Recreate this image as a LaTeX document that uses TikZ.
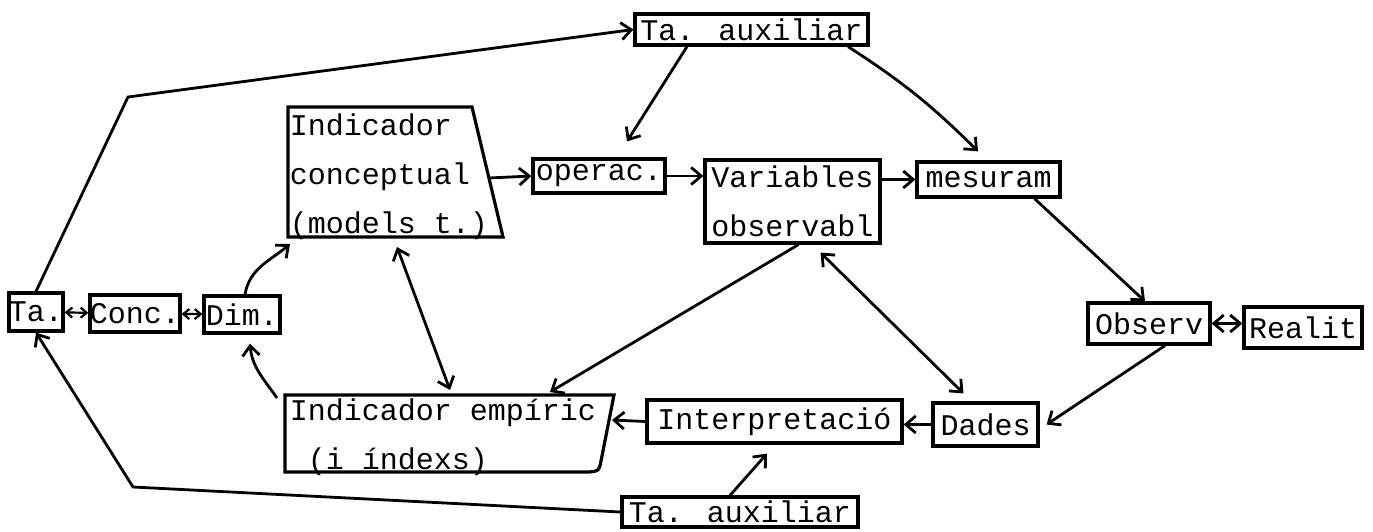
\documentclass[tikz,border=0pt]{standalone}
\usepackage{fontspec}
\newfontfamily\dotfont{Liberation Mono}
\usetikzlibrary{arrows.meta}

\begin{document}
\begin{tikzpicture}[x=1pt, y=-1pt, every node/.style={font=\dotfont\fontsize{30}{49}\selectfont,
                inner sep=0pt},
                box/.style={draw, line width=3.2pt},
                arr/.style={line width=2.8pt, -{Straight Barb[length=10pt, width=17pt]}},
                darr/.style={line width=2.8pt, {Straight Barb[length=10pt, width=17pt]}-{Straight Barb[length=10pt, width=17pt]}},
                sdarr/.style={line width=2.2pt, {Straight Barb[length=6pt, width=10pt]}-{Straight Barb[length=6pt, width=10pt]}}]
            \useasboundingbox (0,0) rectangle (1373,532);

            \node[box, minimum width=233, minimum height=31] (auxT) at (751.5, 29.5) {Ta. auxiliar};
            \node[box, minimum width=54, minimum height=38] (ta) at (36, 312) {Ta.};
            \node[box, minimum width=90, minimum height=37] (conc) at (135, 313.5) {Conc.};
            \node[box, minimum width=76, minimum height=37] (dim) at (242, 314.5) {Dim.};
            \node[align=left] (indc) at (389, 177) {Indicador\\conceptual\\(models t.)};
            \node[box, minimum width=132, minimum height=34] (operac) at (599, 176) {operac.};
            \node[box, minimum width=175, minimum height=83, align=left] (vars) at (792.5, 201.5) {Variables\\observabl};
            \node[box, minimum width=143, minimum height=35] (mesur) at (988.5, 179.5) {mesuram};
            \node[box, minimum width=122, minimum height=41] (observ) at (1149, 323.5) {Observ};
            \node[box, minimum width=118, minimum height=41] (realit) at (1303, 327.5) {Realit};
            \node[box, minimum width=105, minimum height=43] (dades) at (985.5, 424.5) {Dades};
            \node[box, minimum width=255, minimum height=43] (interp) at (774.5, 421.5) {Interpretació};
            \node[align=left] (emp) at (443, 437.5) {Indicador empíric\\~(i índexs)};
            \node[box, minimum width=236, minimum height=30] (auxB) at (740, 512) {Ta. auxiliar};

            % outlines of the two indicator boxes
            \draw[line width=3.2pt] (288,107) -- (472,107) -- (503,237) -- (288,237) -- cycle;
            \draw[line width=3.2pt] (285,395) -- (614,395) -- (601,461) .. controls (599,471) .. (589,472) -- (285,472) -- cycle;

            \coordinate (indcE) at (489,178);
            \coordinate (indcSW) at (290,244);
            \coordinate (indcS) at (397,247);
            \coordinate (empN) at (450,390);
            \coordinate (empNW) at (277,398);
            \coordinate (empNE) at (550,392);
            \coordinate (empE) at (612,420);
            \coordinate (up) at (128,97);
            \coordinate (down) at (133,487);

            \draw[arr] (ta.north) -- (up) -- (auxT.west);
            \draw[arr] (auxB.west) -- (down) -- (ta.south);
            \draw[sdarr] (ta) -- (conc);
            \draw[sdarr] (conc) -- (dim);
            \draw[arr] ([xshift=3]dim.north) to[out=80, in=220] (indcSW);
            \draw[arr] (empNW) to[out=125, in=-85] ([xshift=8, yshift=-9]dim.south);
            \draw[darr] (indcS) -- (empN);
            \draw[arr] (indcE) -- (operac.west);
            \draw[arr] (operac.east) -- (operac.east -| vars.west);
            \draw[arr] (vars.east |- mesur) -- (mesur.west);
            \draw[arr] ([xshift=-64.5]auxT.south) -- ([xshift=28, yshift=16]operac.north);
            \draw[arr] ([xshift=96.5]auxT.south) to[bend left=6] ([xshift=-10.5, yshift=9]mesur.north);
            \draw[arr] ([xshift=46]mesur.south) -- ([xshift=-4]observ.north);
            \draw[darr] (observ.east) -- (observ.east -| realit.west);
            \draw[arr] ([xshift=16]observ.south) -- ([xshift=7]dades.east);
            \draw[arr] (dades.west) -- (dades.west -| interp.east);
            \draw[arr] (interp.west) -- (empE);
            \draw[arr] ([xshift=-10]auxB.north) -- ([xshift=-7.5, yshift=-9]interp.south);
            \draw[arr] ([xshift=6]vars.south) -- (empNE);
            \draw[darr] ([xshift=28, yshift=-8]vars.south) -- ([xshift=-22, yshift=8]dades.north);
        \end{tikzpicture}
\end{document}
